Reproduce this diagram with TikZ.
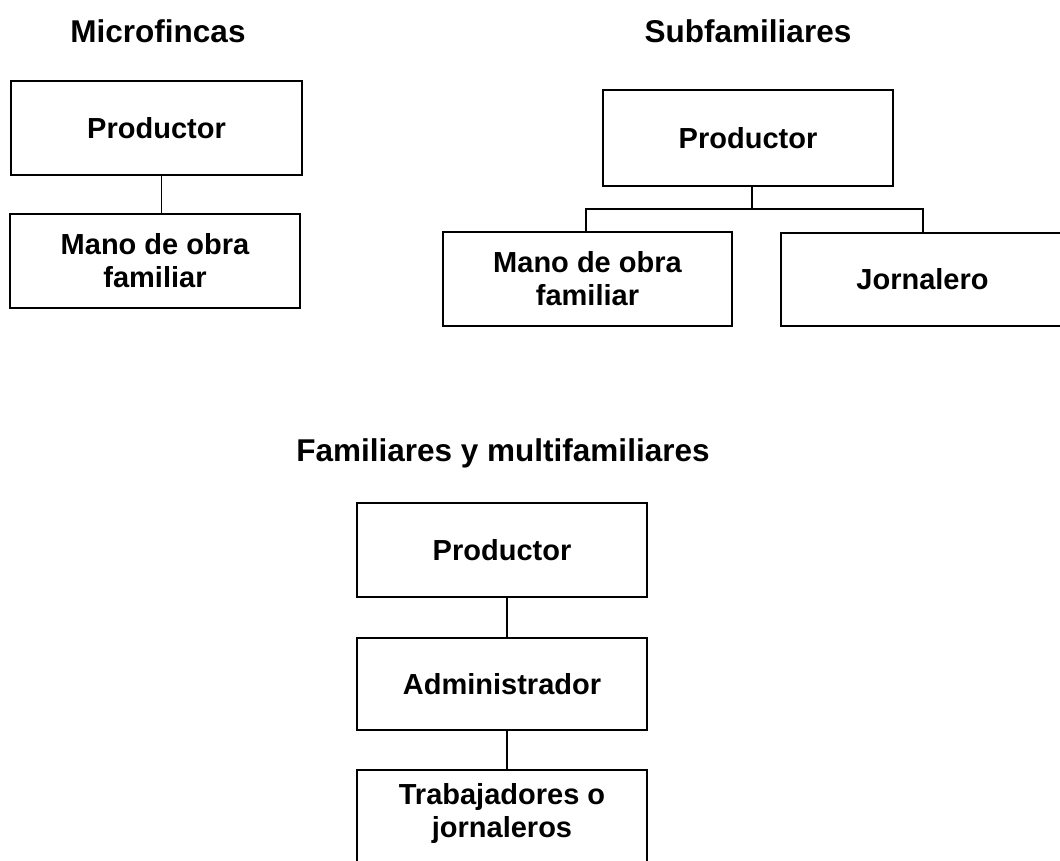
\documentclass[tikz,border=0pt]{standalone}
\usepackage{fontspec}
\setmainfont{Liberation Sans}
\begin{document}
\begin{tikzpicture}[x=1pt,y=-1pt,
  box/.style={draw=black, line width=1.6pt, rectangle, inner sep=0pt, outer sep=0pt,
    align=center, font=\fontsize{29}{33}\selectfont\bfseries},
  boxtext/.style={inner sep=0pt, outer sep=0pt, align=center, font=\fontsize{29}{33}\selectfont\bfseries},
  title/.style={inner sep=0pt, outer sep=0pt, anchor=base, font=\fontsize{31.5}{36}\selectfont\bfseries},
  conn/.style={draw=black, line width=1.6pt}]
\useasboundingbox (0,0) rectangle (1060,860);

% Microfincas
\node[title] (T1) at (158,42) {Microfincas};
\node[box, minimum width=291pt, minimum height=94pt] (MP) at (156.5,128) {Productor};
\node[box, minimum width=290pt, minimum height=94pt] (MM) at (155,261) {Mano de obra\\familiar};
\draw[conn] ([xshift=5pt]MP.south) -- ([xshift=6.5pt]MM.north);

% Subfamiliares
\node[title] (T2) at (748,42) {Subfamiliares};
\node[box, minimum width=290pt, minimum height=96pt] (SP) at (748,138) {Productor};
\node[box, minimum width=289pt, minimum height=94pt] (SM) at (587.5,279) {Mano de obra\\familiar};
\node[box, minimum width=283pt, minimum height=93pt] (SJ) at (922.5,279.5) {Jornalero};
\coordinate (SB) at (752,209);
\draw[conn] ([xshift=4pt]SP.south) -- (SB);
\draw[conn] ([xshift=-1.5pt]SM.north) |- (SB) -| ([xshift=0.5pt]SJ.north);

% Familiares y multifamiliares
\node[title] (T3) at (503,461) {Familiares y multifamiliares};
\node[box, minimum width=290pt, minimum height=94pt] (FP) at (502,550) {Productor};
\node[box, minimum width=290pt, minimum height=92pt] (FA) at (502,684) {Administrador};
\node[box, minimum width=290pt, minimum height=110pt] (FT) at (502,825) {};
\node[boxtext] (FTt) at (502,813) {Trabajadores o\\jornaleros};
\draw[conn] ([xshift=5pt]FP.south) -- ([xshift=5pt]FA.north);
\draw[conn] ([xshift=5pt]FA.south) -- ([xshift=5pt]FT.north);
\end{tikzpicture}
\end{document}
